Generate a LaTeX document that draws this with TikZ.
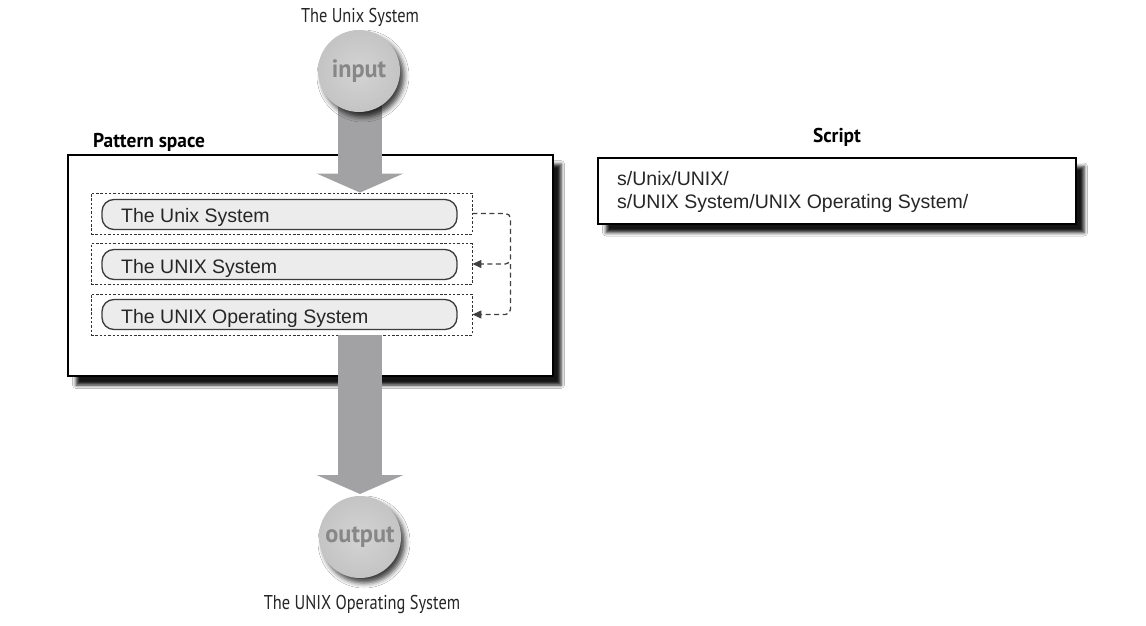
\documentclass[tikz,border=0pt]{standalone}
\usepackage{fontspec}
\setmainfont{Liberation Sans}
\newfontfamily\cond[FakeStretch=0.82]{PT Sans}
\newfontfamily\condb[FakeStretch=0.97]{PT Sans Bold}
\usetikzlibrary{arrows.meta,shadows.blur}
\definecolor{arrowgray}{RGB}{162,162,164}
\definecolor{discgray}{RGB}{204,204,204}
\definecolor{disctext}{RGB}{135,135,135}
\definecolor{linegray}{RGB}{60,60,60}
\definecolor{pillgray}{RGB}{236,236,236}
\tikzset{
  lbl/.style={font=\cond\fontsize{20}{24}\selectfont, text=black!85, inner sep=0pt},
  blbl/.style={font=\condb\fontsize{20}{24}\selectfont, text=black, inner sep=0pt},
  mainbox/.style={draw=black, line width=2pt, fill=white,
    blur shadow={shadow xshift=8pt, shadow yshift=-9pt, shadow blur radius=3.5pt, shadow opacity=92}},
  disc/.style={circle, minimum size=82pt, inner sep=0pt,
    inner color=discgray!85!white, outer color=discgray!96!black,
    text=disctext, font=\condb\fontsize{25}{28}\selectfont,
    blur shadow={shadow xshift=4pt, shadow yshift=-5pt, shadow blur radius=5pt, shadow opacity=75}},
  dbox/.style={draw=black!80, line width=0.9pt, dash pattern=on 2.5pt off 1.8pt, fill=white},
  pill/.style={draw=linegray, line width=1.3pt, fill=pillgray, rounded corners=12pt},
  pilltext/.style={font=\fontsize{19.5}{23}\selectfont, text=black!85, anchor=base west, inner sep=0pt},
  bigarrow/.style={draw=arrowgray, line width=44pt, -{Triangle[length=19pt,width=86pt]}},
  conn/.style={draw=black!75, line width=1.3pt, dash pattern=on 5pt off 3.5pt, rounded corners=5pt,
    -{Triangle[length=9pt,width=8pt]}},
}
\begin{document}
\begin{tikzpicture}[x=1pt,y=-1pt]
\useasboundingbox[fill=white] (0,0) rectangle (1146,626);

% labels
\node[lbl, anchor=base] (toplbl) at (360,23) {The Unix System};
\node[lbl, anchor=base] (botlbl) at (362,609) {The UNIX Operating System};
\node[blbl, anchor=base west] (pslbl) at (93,147) {Pattern space};
\node[blbl, anchor=base] (sclbl) at (837,142) {Script};

% pattern space box
\node[mainbox, minimum width=485pt, minimum height=221pt, inner sep=0pt] (ps) at (310.5,265.5) {};

% script box
\node[mainbox, minimum width=478pt, minimum height=66pt, inner sep=0pt] (sc) at (837,190.5) {};
\node[font=\fontsize{19.5}{23}\selectfont, text=black!85, anchor=north west, align=left, inner sep=0pt] (sctext) at (617,171)
  {s/Unix/UNIX/\\ s/UNIX System/UNIX Operating System/};

% dashed boxes
\node[dbox, minimum width=381pt, minimum height=41pt, inner sep=0pt] (d1) at (281.5,213.5) {};
\node[dbox, minimum width=381pt, minimum height=41pt, inner sep=0pt] (d2) at (281.5,264) {};
\node[dbox, minimum width=381pt, minimum height=41pt, inner sep=0pt] (d3) at (281.5,314.5) {};

% pills
\node[pill, minimum width=355pt, minimum height=30pt, inner sep=0pt] (p1) at (279.5,214.5) {};
\node[pill, minimum width=355pt, minimum height=30pt, inner sep=0pt] (p2) at (279.5,264.5) {};
\node[pill, minimum width=355pt, minimum height=30pt, inner sep=0pt] (p3) at (279.5,314.5) {};
\node[pilltext] (t1) at (121,222.5) {The Unix System};
\node[pilltext] (t2) at (121,273) {The UNIX System};
\node[pilltext] (t3) at (121,323) {The UNIX Operating System};

% big arrows
\draw[bigarrow] (360,100) -- (d1.north -| 360,0);
\draw[bigarrow] (d3.south -| 360,0) -- (360,494);

% discs
\node[disc] (in) at (359,71) {input};
\node[disc] (out) at (360,537) {output};

% dashed connectors
\draw[conn] (d1.east) -- ++(38,0) |- (d2.east);
\draw[conn] ([xshift=38pt]d2.east) |- (d3.east);
\end{tikzpicture}
\end{document}
